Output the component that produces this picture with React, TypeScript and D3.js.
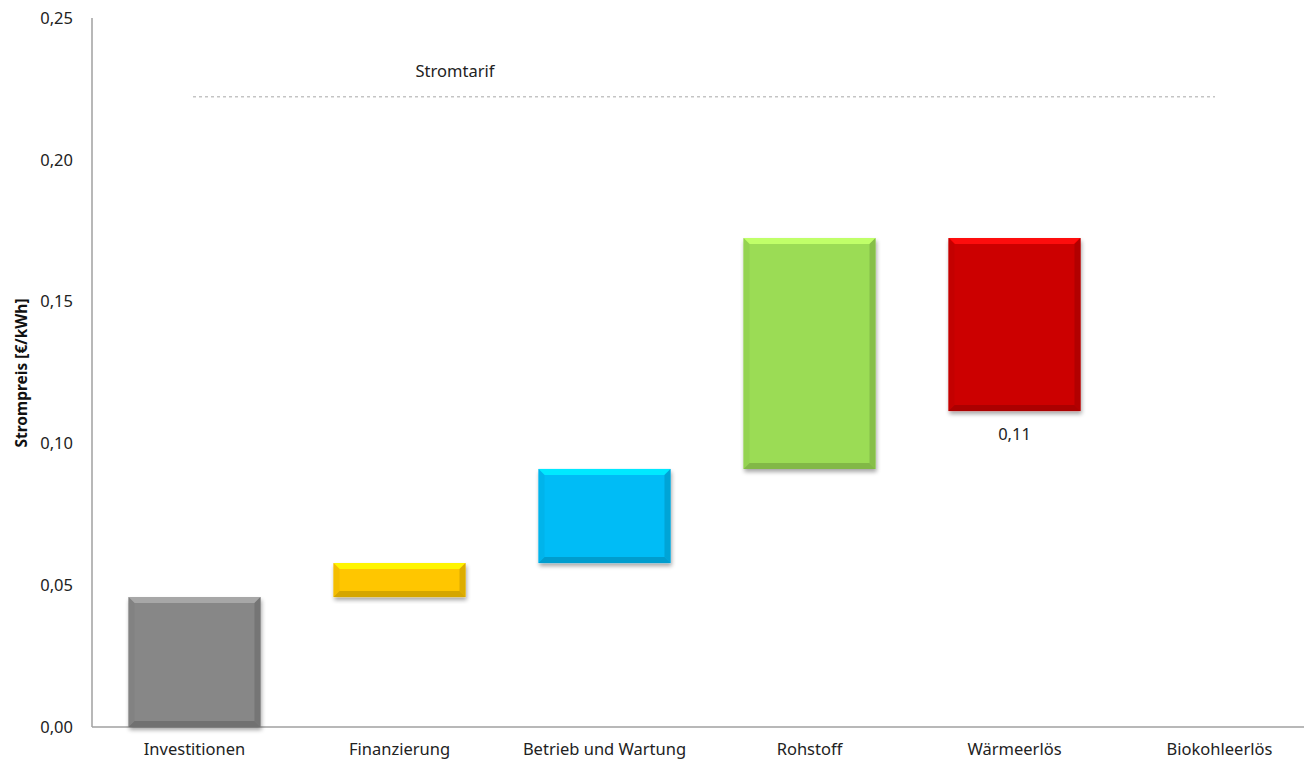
import React from "react";
import * as d3 from "d3";

const categories = ["Investitionen", "Finanzierung", "Betrieb und Wartung", "Rohstoff", "Wärmeerlös", "Biokohleerlös"];
const barStart = [0, 0.0458, 0.0578, 0.091, 0.1114, null];
const barEnd = [0.0458, 0.0578, 0.091, 0.1724, 0.1724, null];
const barColors = ["#878787", "#ffc600", "#00bcf6", "#9bdc55", "#cc0606", "#ffffff"];
const yTicks = [0, 0.05, 0.1, 0.15, 0.2, 0.25];
const stromtarif = 0.2222;
const stromtarifLabel = "Stromtarif";
const resultLabel = "0,11";
const yTitle = "Strompreis [€/kWh]";

const W = 1304, H = 766;
const font = "'Noto Sans', sans-serif";
const fs = 16.5;

export default function App() {
  const y = d3.scaleLinear().domain([0, 0.25]).range([727, 18]);
  const x = d3.scaleBand<string>().domain(categories).range([92, 1322]).paddingInner(0.356).paddingOuter(0.178);
  const fmt = (v: number) => d3.format(".2f")(v).replace(".", ",");
  const bw = x.bandwidth();
  const bev = 6;

  return (
    <svg width={W} height={H} style={{ position: "absolute", left: 0, top: 0, background: "#fff" }}>
      <defs>
        <filter id="sh" x="-10%" y="-10%" width="130%" height="130%">
          <feGaussianBlur in="SourceAlpha" stdDeviation="2" />
          <feOffset dx="1" dy="3" result="b" />
          <feComponentTransfer><feFuncA type="linear" slope="0.35" /></feComponentTransfer>
          <feMerge><feMergeNode /><feMergeNode in="SourceGraphic" /></feMerge>
        </filter>
      </defs>
      {/* axes */}
      <line x1={92} x2={92} y1={18} y2={727} stroke="#a0a0a0" strokeWidth={1.5} />
      <line x1={92} x2={1304} y1={727} y2={727} stroke="#a0a0a0" strokeWidth={1.5} />
      {yTicks.map((t) => (
        <text key={t} x={73} y={y(t)} dy="0.35em" textAnchor="end" fontFamily={font} fontSize={fs} fill="#222">{fmt(t)}</text>
      ))}
      <text transform={`translate(27,373) rotate(-90)`} textAnchor="middle" fontFamily={font} fontSize={15.5} fontWeight="bold" fill="#111">{yTitle}</text>
      {categories.map((c) => (
        <text key={c} x={x(c)! + bw / 2} y={755} textAnchor="middle" fontFamily={font} fontSize={fs} fill="#222">{c}</text>
      ))}
      {/* bars */}
      {categories.map((c, i) => {
        const s = barStart[i], e = barEnd[i];
        if (s == null || e == null) return null;
        const x0 = x(c)!, x1 = x0 + bw;
        const yt = y(e), yb = y(s);
        const col = d3.color(barColors[i])!;
        const light = col.brighter(0.6).formatHex();
        const dark = col.darker(0.5).formatHex();
        const mid = col.darker(0.2).formatHex();
        const b = Math.min(bev, (yb - yt) / 2);
        return (
          <g key={c} filter="url(#sh)">
            <rect x={x0} y={yt} width={bw} height={yb - yt} fill={barColors[i]} />
            <polygon points={`${x0},${yt} ${x1},${yt} ${x1 - b},${yt + b} ${x0 + b},${yt + b}`} fill={light} />
            <polygon points={`${x0},${yb} ${x1},${yb} ${x1 - b},${yb - b} ${x0 + b},${yb - b}`} fill={dark} />
            <polygon points={`${x0},${yt} ${x0 + b},${yt + b} ${x0 + b},${yb - b} ${x0},${yb}`} fill={mid} opacity={0.6} />
            <polygon points={`${x1},${yt} ${x1 - b},${yt + b} ${x1 - b},${yb - b} ${x1},${yb}`} fill={dark} opacity={0.8} />
          </g>
        );
      })}
      {/* Stromtarif */}
      <line x1={193} x2={1215} y1={y(stromtarif)} y2={y(stromtarif)} stroke="#a8a8a8" strokeWidth={1} strokeDasharray="3,3" />
      <text x={455} y={y(stromtarif) - 20} textAnchor="middle" fontFamily={font} fontSize={fs} fill="#222">{stromtarifLabel}</text>
      <text x={x("Wärmeerlös")! + bw / 2} y={y(barStart[4]!) + 29} textAnchor="middle" fontFamily={font} fontSize={fs} fill="#222">{resultLabel}</text>
    </svg>
  );
}
